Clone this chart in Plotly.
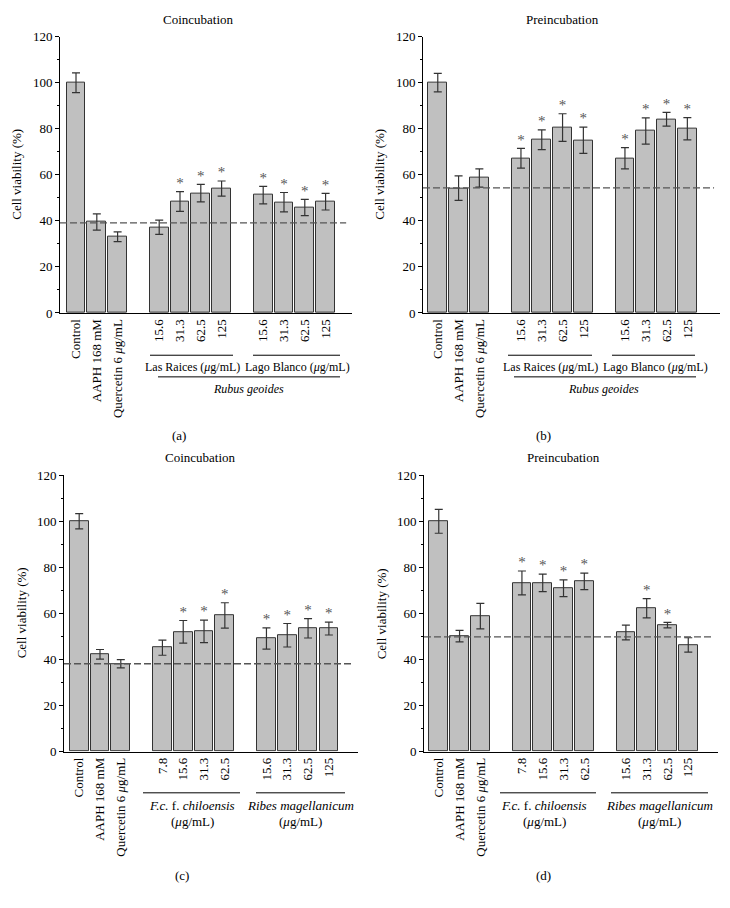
import plotly.graph_objects as go

# posizioni delle barre (gli spazi vuoti separano i gruppi)
pos = [0, 1, 2, 4, 5, 6, 7, 9, 10, 11, 12]

labels_top = ["Control", "AAPH 168 mM", "Quercetin 6 <i>μ</i>g/mL",
              "15.6", "31.3", "62.5", "125", "15.6", "31.3", "62.5", "125"]
labels_bottom = ["Control", "AAPH 168 mM", "Quercetin 6 <i>μ</i>g/mL",
                 "7.8", "15.6", "31.3", "62.5", "15.6", "31.3", "62.5", "125"]

# (a) Coincubation - Rubus geoides
a_vals = [100, 39.5, 33.1, 37.2, 48.4, 52.0, 54.0, 51.2, 48.1, 45.8, 48.3]
a_err = [4.3, 3.5, 2.1, 3.1, 4.3, 3.8, 3.3, 3.8, 4.2, 3.5, 3.6]
a_star = [0, 0, 0, 0, 1, 1, 1, 1, 1, 1, 1]
a_ref = 39.1

# (b) Preincubation - Rubus geoides
b_vals = [100, 54.2, 58.6, 67.2, 75.2, 80.5, 75.0, 67.2, 79.0, 84.1, 80.0]
b_err = [4.0, 5.3, 4.0, 4.3, 4.3, 6.0, 5.7, 4.6, 5.7, 3.0, 4.8]
b_star = [0, 0, 0, 1, 1, 1, 1, 1, 1, 1, 1]
b_ref = 54.3

# (c) Coincubation - F.c. f. chiloensis / Ribes magellanicum
c_vals = [100, 42.2, 38.1, 45.1, 52.0, 52.2, 59.1, 49.1, 50.5, 53.5, 53.4]
c_err = [3.3, 2.1, 1.8, 3.3, 4.9, 4.9, 5.5, 4.6, 5.1, 4.2, 2.8]
c_star = [0, 0, 0, 0, 1, 1, 1, 1, 1, 1, 1]
c_ref = 38.1

# (d) Preincubation - F.c. f. chiloensis / Ribes magellanicum
d_vals = [100, 50.1, 58.8, 73.2, 73.2, 70.9, 73.9, 51.7, 62.2, 54.9, 46.3]
d_err = [5.2, 2.5, 5.5, 5.2, 3.8, 3.6, 3.6, 3.2, 4.2, 1.2, 3.1]
d_star = [0, 0, 0, 1, 1, 1, 1, 0, 1, 1, 0]
d_ref = 49.8

# la pagina ha 8px di margine nel body: la figura è più piccola e le coordinate
# sotto sono in pixel della finestra
OFF = 8
W, H = 730 - OFF, 908 - OFF
FONT = "Liberation Serif"
BAR = "#c0c0c0"
EDGE = "#333333"


def px(x):
    return (x - OFF) / W


def py(y):
    return 1 - (y - OFF) / H


# pannelli: (valori, errori, stelle, linea tratteggiata, etichette, dominio x px, dominio y px, range x)
panels = [
    (a_vals, a_err, a_star, a_ref, labels_top, (60, 352), (30, 311), (-0.77, 13.27)),
    (b_vals, b_err, b_star, b_ref, labels_top, (423, 720), (30, 311), (-0.71, 13.57)),
    (c_vals, c_err, c_star, c_ref, labels_bottom, (64, 358), (476, 757), (-0.73, 13.4)),
    (d_vals, d_err, d_star, d_ref, labels_bottom, (424, 718), (476, 757), (-0.71, 13.43)),
]

fig = go.Figure()
shapes = []
annotations = []


def note(text, x, y, size=13, angle=0):
    annotations.append(dict(text=text, xref="paper", yref="paper", x=px(x), y=py(y),
                            xanchor="center", yanchor="middle", textangle=angle,
                            showarrow=False, font=dict(family=FONT, size=size, color="black")))


def hline(x0, x1, y):
    shapes.append(dict(type="line", xref="paper", yref="paper", x0=px(x0), x1=px(x1),
                       y0=py(y), y1=py(y), line=dict(color="black", width=1)))


for i, (vals, err, star, ref, labs, xd, yd, xr) in enumerate(panels):
    n = "" if i == 0 else str(i + 1)
    xa, ya = "x" + n, "y" + n

    fig.add_trace(go.Bar(x=pos, y=vals, width=0.9, xaxis=xa, yaxis=ya,
                         marker=dict(color=BAR, line=dict(color=EDGE, width=1)),
                         error_y=dict(type="data", array=err, color=EDGE, thickness=1.2, width=4),
                         showlegend=False))

    # asterischi sopra le barre significative
    sx = [p for p, s in zip(pos, star) if s]
    sy = [v + e for v, e, s in zip(vals, err, star) if s]
    fig.add_trace(go.Scatter(x=sx, y=sy, mode="text", text=["*"] * len(sx),
                             textposition="top center", xaxis=xa, yaxis=ya, opacity=0.99,
                             textfont=dict(family=FONT, size=15, color="#555555"),
                             showlegend=False))

    shapes.append(dict(type="line", xref=xa + " domain", yref=ya, x0=0, x1=0.98, y0=ref, y1=ref,
                       line=dict(color="#555555", width=1.4, dash="7px,3px")))

    fig.layout["xaxis" + n] = dict(domain=[px(xd[0]), px(xd[1])], anchor=ya, range=list(xr),
                                   tickvals=pos, ticktext=labs, tickangle=-90, ticks="",
                                   showline=True, linecolor="black", linewidth=1,
                                   showgrid=False, zeroline=False,
                                   tickfont=dict(family=FONT, size=13, color="black"))
    fig.layout["yaxis" + n] = dict(domain=[py(yd[1]), py(yd[0])], anchor=xa, range=[0, 120],
                                   dtick=20, ticks="outside", ticklen=4, tickcolor="black",
                                   minor=dict(dtick=10, ticks="outside", ticklen=2, tickcolor="black"),
                                   showline=True, linecolor="black", linewidth=1,
                                   showgrid=False, zeroline=False,
                                   tickfont=dict(family=FONT, size=13, color="black"))

    note("Cell viability (%)", xd[0] - 43, (yd[0] + yd[1]) / 2, angle=-90)


# titoli
note("Coincubation", 198, 13)
note("Preincubation", 562, 13)
note("Coincubation", 200, 458)
note("Preincubation", 563, 458)

# gruppi sotto (a)
hline(150, 233, 354)
hline(253, 340, 354)
hline(158, 340, 376)
note("Las Raices (<i>μ</i>g/mL)", 192, 366, size=12)
note("Lago Blanco (<i>μ</i>g/mL)", 297, 366, size=12)
note("<i>Rubus geoides</i>", 248, 388, size=12)
note("(a)", 179, 436)

# gruppi sotto (b)
hline(508, 592, 354)
hline(612, 695, 354)
hline(514, 696, 376)
note("Las Raices (<i>μ</i>g/mL)", 550, 366, size=12)
note("Lago Blanco (<i>μ</i>g/mL)", 655, 366, size=12)
note("<i>Rubus geoides</i>", 603, 388, size=12)
note("(b)", 543, 436)

# gruppi sotto (c)
hline(143, 240, 799)
hline(256, 345, 799)
note("<i>F.c.</i> f. <i>chiloensis</i>", 192, 812)
note("(<i>μ</i>g/mL)", 192, 828)
note("<i>Ribes magellanicum</i>", 300, 812)
note("(<i>μ</i>g/mL)", 300, 828)
note("(c)", 182, 883)

# gruppi sotto (d)
hline(500, 596, 799)
hline(611, 708, 799)
note("<i>F.c.</i> f. <i>chiloensis</i>", 544, 812)
note("(<i>μ</i>g/mL)", 544, 828)
note("<i>Ribes magellanicum</i>", 659, 812)
note("(<i>μ</i>g/mL)", 659, 828)
note("(d)", 543, 883)

fig.update_layout(width=W, height=H, margin=dict(l=0, r=0, t=0, b=0),
                  plot_bgcolor="white", paper_bgcolor="white", bargap=0,
                  shapes=shapes, annotations=annotations,
                  font=dict(family=FONT, size=13, color="black"))

fig.write_html("out.html")
